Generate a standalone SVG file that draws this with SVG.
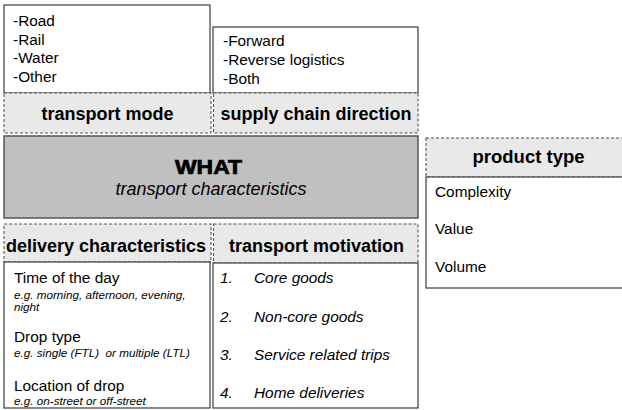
<svg xmlns="http://www.w3.org/2000/svg" width="622" height="410" viewBox="0 0 622 410">
<style>
.box{fill:#fff;stroke:#3c3c3c;stroke-width:1.2}
.hdr{fill:#e9e9e9;stroke:#555;stroke-width:1.1;stroke-dasharray:3 2}
.core{fill:#c0c0c0;stroke:#555;stroke-width:1.5}
text{font-family:"Liberation Sans",Arial,sans-serif;fill:#000}
.t{font-size:15.4px}
.h{font-size:18px;font-weight:bold;text-anchor:middle}
.i{font-size:15.4px;font-style:italic}
.s{font-size:11.7px;font-style:italic}
</style>
<rect width="622" height="410" fill="#fff"/>
<g id="connectors"/>
<g id="transport-mode">
<rect class="box" x="4" y="5" width="206" height="88"/>
<rect class="hdr" x="4" y="93" width="207" height="40"/>
<text class="t" x="13" y="26">-Road</text>
<text class="t" x="13" y="44.5">-Rail</text>
<text class="t" x="13" y="63">-Water</text>
<text class="t" x="13" y="82">-Other</text>
<text class="h" x="107.5" y="120">transport mode</text>
</g>
<g id="supply-chain-direction">
<rect class="box" x="213" y="27" width="205" height="66"/>
<rect class="hdr" x="213.5" y="93" width="204.5" height="40"/>
<text class="t" x="223" y="46">-Forward</text>
<text class="t" x="223" y="65">-Reverse logistics</text>
<text class="t" x="223" y="84">-Both</text>
<text class="h" x="316" y="120">supply chain direction</text>
</g>
<g id="what">
<rect class="core" x="4" y="136" width="414" height="82"/>
<text x="175" y="174" textLength="67" lengthAdjust="spacingAndGlyphs" style="font-size:19.5px;font-weight:bold;stroke:#000;stroke-width:0.7">WHAT</text>
<text x="211" y="195" style="font-size:18px;font-style:italic;text-anchor:middle">transport characteristics</text>
</g>
<g id="product-type">
<rect class="hdr" x="426" y="138" width="205" height="39"/>
<rect class="box" x="426" y="177" width="205" height="111"/>
<text class="h" x="528.5" y="163" style="font-size:18.5px">product type</text>
<text class="t" x="435" y="197">Complexity</text>
<text class="t" x="435" y="234">Value</text>
<text class="t" x="435" y="272">Volume</text>
</g>
<g id="delivery-characteristics">
<rect class="hdr" x="4" y="224" width="207" height="38"/>
<rect class="box" x="4" y="262" width="206" height="146"/>
<text class="h" x="106" y="252">delivery characteristics</text>
<text class="t" x="14" y="283">Time of the day</text>
<text class="s" x="14" y="299">e.g. morning, afternoon, evening,</text>
<text class="s" x="14" y="311">night</text>
<text class="t" x="14" y="342">Drop type</text>
<text class="s" x="14" y="357" xml:space="preserve">e.g. single (FTL)  or multiple (LTL)</text>
<text class="t" x="14" y="391">Location of drop</text>
<text class="s" x="14" y="405">e.g. on-street or off-street</text>
</g>
<g id="transport-motivation">
<rect class="hdr" x="213.5" y="224" width="204.5" height="39"/>
<rect class="box" x="213" y="263" width="205" height="145"/>
<text class="h" x="316.5" y="252">transport motivation</text>
<text class="i" x="220" y="283">1.</text>
<text class="i" x="254" y="283">Core goods</text>
<text class="i" x="220" y="322">2.</text>
<text class="i" x="254" y="322">Non-core goods</text>
<text class="i" x="220" y="360">3.</text>
<text class="i" x="254" y="360">Service related trips</text>
<text class="i" x="220" y="398">4.</text>
<text class="i" x="254" y="398">Home deliveries</text>
</g>
</svg>
